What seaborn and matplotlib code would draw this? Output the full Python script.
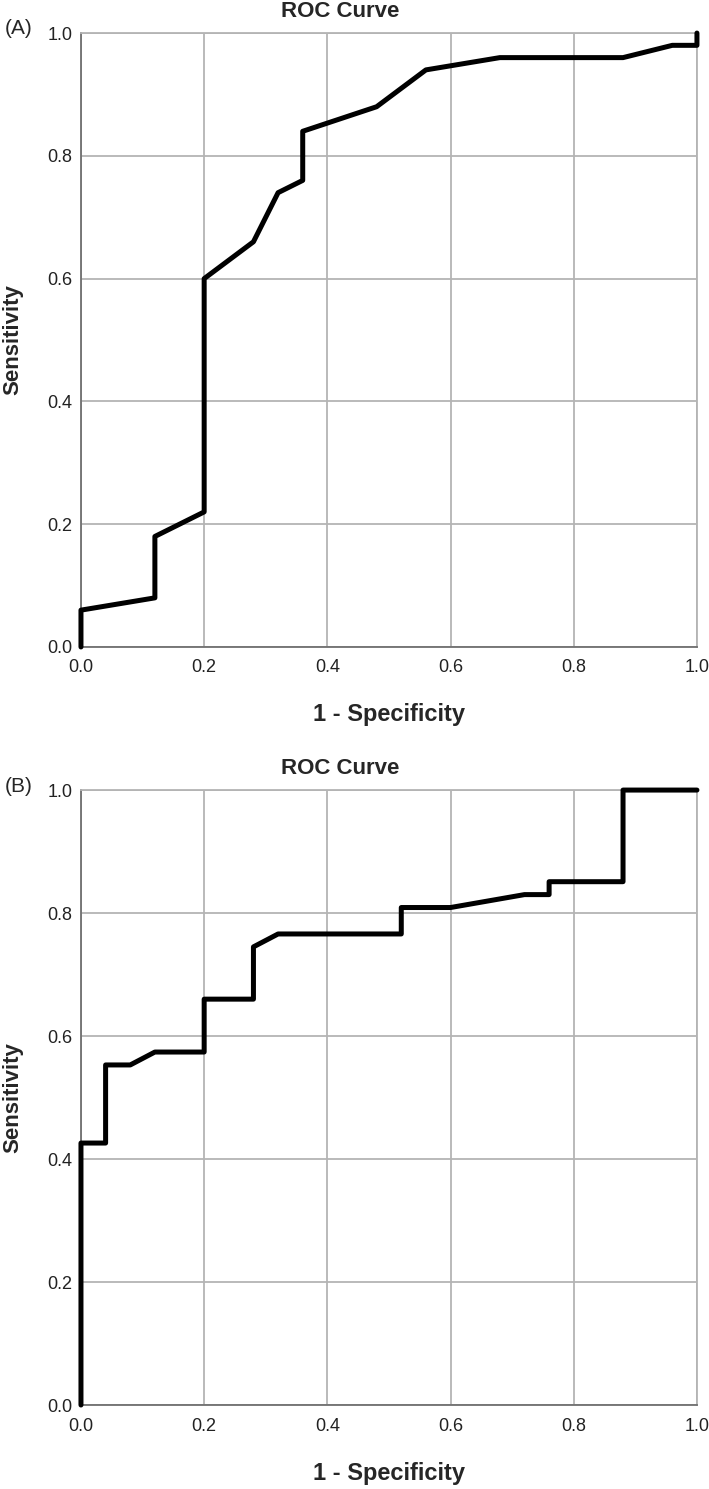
import matplotlib
matplotlib.use('Agg')
import matplotlib.pyplot as plt
import seaborn as sns
import pandas as pd

# ROC points (1 - specificity, sensitivity)
fpr_a = [0.0, 0.0, 0.12, 0.12, 0.20, 0.20, 0.28, 0.32, 0.36, 0.36, 0.48, 0.56, 0.68, 0.88, 0.96, 1.0, 1.0]
tpr_a = [0.0, 0.06, 0.08, 0.18, 0.22, 0.60, 0.66, 0.74, 0.76, 0.84, 0.88, 0.94, 0.96, 0.96, 0.98, 0.98, 1.0]

fpr_b = [0.0, 0.0, 0.04, 0.04, 0.08, 0.12, 0.20, 0.20, 0.28, 0.28, 0.32, 0.52, 0.52, 0.60, 0.72, 0.76, 0.76, 0.88, 0.88, 1.0]
tpr_b = [0.0, 0.426, 0.426, 0.553, 0.553, 0.574, 0.574, 0.660, 0.660, 0.745, 0.766, 0.766, 0.809, 0.809, 0.830, 0.830, 0.851, 0.851, 1.0, 1.0]

ticks = [0.0, 0.2, 0.4, 0.6, 0.8, 1.0]
tick_labels = ['0.0', '0.2', '0.4', '0.6', '0.8', '1.0']
panel_tags = ['(A)', '(B)']

sns.set_style('white')
plt.rcParams['font.family'] = ['Liberation Sans', 'DejaVu Sans']

fig = plt.figure(figsize=(7.09, 14.89), dpi=100)
ax_a = fig.add_axes([0.1142, 0.5655, 0.8688, 0.4123])
ax_b = fig.add_axes([0.1142, 0.0564, 0.8688, 0.4130])


def roc_panel(ax, fpr, tpr, tag, title_y, tag_y):
    df = pd.DataFrame({'fpr': fpr, 'tpr': tpr})
    sns.lineplot(data=df, x='fpr', y='tpr', sort=False, estimator=None,
                 color='black', linewidth=3.6, ax=ax, clip_on=False, zorder=5)
    ax.set_xlim(0, 1)
    ax.set_ylim(0, 1)
    ax.set_xticks(ticks)
    ax.set_xticklabels(tick_labels)
    ax.set_yticks(ticks)
    ax.set_yticklabels(tick_labels)
    ax.grid(True, color='#b4b4b4', linewidth=1.3)
    ax.tick_params(axis='x', length=0, labelsize=13, pad=9, colors='#222222')
    ax.tick_params(axis='y', length=0, labelsize=13, pad=6, colors='#222222')
    for s in ax.spines.values():
        s.set_color('#b4b4b4')
        s.set_linewidth(1.3)
    ax.spines['left'].set_color('#707070')
    ax.spines['bottom'].set_color('#707070')
    ax.set_xlabel('1 - Specificity', fontsize=17, fontweight='bold')
    ax.set_ylabel('Sensitivity', fontsize=16, fontweight='bold')
    ax.xaxis.set_label_coords(0.5, -0.092)
    ax.yaxis.set_label_coords(-0.094, 0.5)
    fig.text(0.48, title_y, 'ROC Curve', ha='center', va='center', fontsize=16, fontweight='bold')
    fig.text(0.006, tag_y, tag, ha='left', va='center', fontsize=15)


roc_panel(ax_a, fpr_a, tpr_a, panel_tags[0], 0.9920, 0.9810)
roc_panel(ax_b, fpr_b, tpr_b, panel_tags[1], 0.4842, 0.4721)

fig.savefig('out.png', dpi=100)
